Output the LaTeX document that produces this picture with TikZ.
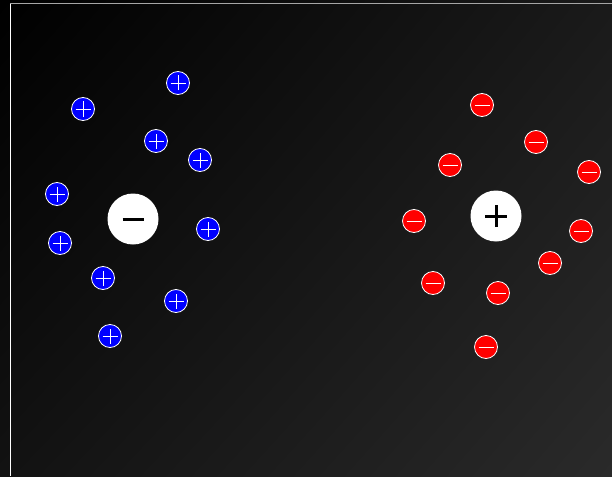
\documentclass[tikz,border=0pt]{standalone}
\usetikzlibrary{shadings}
\definecolor{bgtl}{HTML}{000000}
\definecolor{bgtr}{HTML}{1A1A1A}
\definecolor{bgbl}{HTML}{121212}
\definecolor{bgbr}{HTML}{2A2A2A}
\begin{document}
\begin{tikzpicture}[x=1pt, y=-1pt,
	small/.style={circle, draw=white, line width=0.8pt, minimum size=23pt, inner sep=0pt},
	plusq/.style={small, fill=blue, path picture={
		\draw[white, line width=0.8pt] ([xshift=-7.5pt]path picture bounding box.center) -- ([xshift=7.5pt]path picture bounding box.center)
			([yshift=-7.5pt]path picture bounding box.center) -- ([yshift=7.5pt]path picture bounding box.center);}},
	minusq/.style={small, fill=red, path picture={
		\draw[white, line width=0.8pt] ([xshift=-7.5pt]path picture bounding box.center) -- ([xshift=7.5pt]path picture bounding box.center);}},
	big/.style={circle, fill=white, minimum size=51pt, inner sep=0pt},
	bigminus/.style={big, path picture={
		\draw[black, line width=3pt] ([xshift=-10.5pt]path picture bounding box.center) -- ([xshift=10.5pt]path picture bounding box.center);}},
	bigplus/.style={big, path picture={
		\draw[black, line width=3pt] ([xshift=-11pt]path picture bounding box.center) -- ([xshift=11pt]path picture bounding box.center)
			([yshift=-11pt]path picture bounding box.center) -- ([yshift=11pt]path picture bounding box.center);}}]
	\useasboundingbox (0,0) rectangle (612,476);
	% background
	\shade[upper left=bgtl, upper right=bgtr, lower left=bgbl, lower right=bgbr] (0,0) rectangle (612,476);
	\draw[white, line width=1.3pt] (10.5,476) -- (10.5,3);
	\draw[white!65!black, line width=1.3pt] (10,3.5) -- (612,3.5);
	% negative centre with its cloud
	\node[bigminus] (cneg) at (133,219) {};
	\foreach \x/\y [count=\i] in {178/83, 83/109, 156/141, 200/160, 57/194, 60/243, 208/229, 103/278, 176/301, 110/336}
		\node[plusq] (p\i) at (\x,\y) {};
	% positive centre with its cloud
	\node[bigplus] (cpos) at (496,216) {};
	\foreach \x/\y [count=\i] in {482/105, 536/142, 450/165, 589/172, 414/221, 581/231, 550/263, 433/283, 498/293, 486/347}
		\node[minusq] (m\i) at (\x,\y) {};
\end{tikzpicture}
\end{document}
